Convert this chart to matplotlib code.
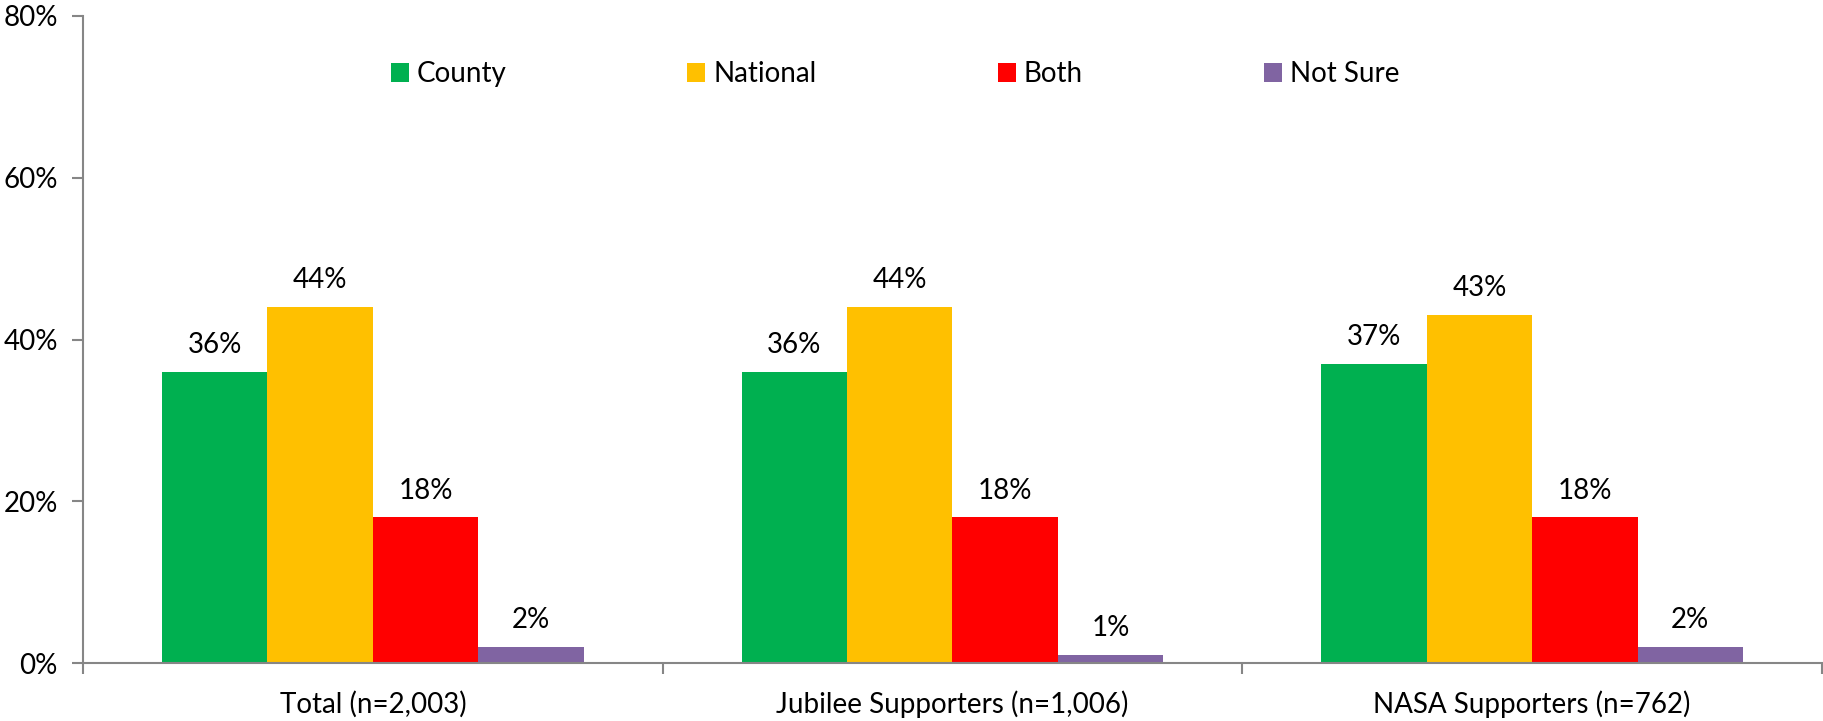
import numpy as np
import matplotlib.pyplot as plt

plt.rcParams['font.family'] = ['Lato', 'DejaVu Sans']

# data
groups = ["Total (n=2,003)", "Jubilee Supporters (n=1,006)", "NASA Supporters (n=762)"]
series = ["County", "National", "Both", "Not Sure"]
county = [36, 36, 37]
national = [44, 44, 43]
both = [18, 18, 18]
not_sure = [2, 1, 2]
colors = ["#00B050", "#FFC000", "#FF0000", "#8064A2"]

values = [county, national, both, not_sure]
FS = 20

fig = plt.figure(figsize=(18.23, 7.21), dpi=100)
ax = fig.add_axes([83/1823, 1 - 663/721, 1 - 84/1823, (663 - 16)/721])

x = np.arange(len(groups))
w = 1 / 5.5
for i, (name, vals) in enumerate(zip(series, values)):
    pos = x + (i - 1.5) * w
    ax.bar(pos, vals, width=w, color=colors[i], label=name, zorder=2)
    for p, v in zip(pos, vals):
        ax.annotate(f"{v}%", (p, v), xytext=(0, 10), textcoords='offset points',
                    ha='center', va='bottom', fontsize=FS)

ax.set_xlim(-0.5, 2.5)
ax.set_ylim(0, 80)
ax.set_yticks([0, 20, 40, 60, 80])
ax.set_yticklabels(["0%", "20%", "40%", "60%", "80%"], fontsize=FS)

# major ticks at group boundaries, labels on minor ticks
ax.set_xticks([-0.5, 0.5, 1.5, 2.5])
ax.set_xticklabels([])
ax.set_xticks(x, minor=True)
ax.set_xticklabels(groups, minor=True, fontsize=FS)
ax.tick_params(axis='x', which='minor', length=0, pad=20)
ax.tick_params(axis='x', which='major', length=8, color='#868686', width=1.5)
ax.tick_params(axis='y', length=8, color='#868686', width=1.5, pad=10)

for s in ['top', 'right']:
    ax.spines[s].set_visible(False)
for s in ['left', 'bottom']:
    ax.spines[s].set_color('#868686')
    ax.spines[s].set_linewidth(1.5)

ax.legend(loc='center', bbox_to_anchor=(0.467, 0.91), ncol=4, frameon=False,
          fontsize=FS, handlelength=0.65, handleheight=0.65, handletextpad=0.3,
          columnspacing=6.5)

fig.savefig("out.png", dpi=100)
